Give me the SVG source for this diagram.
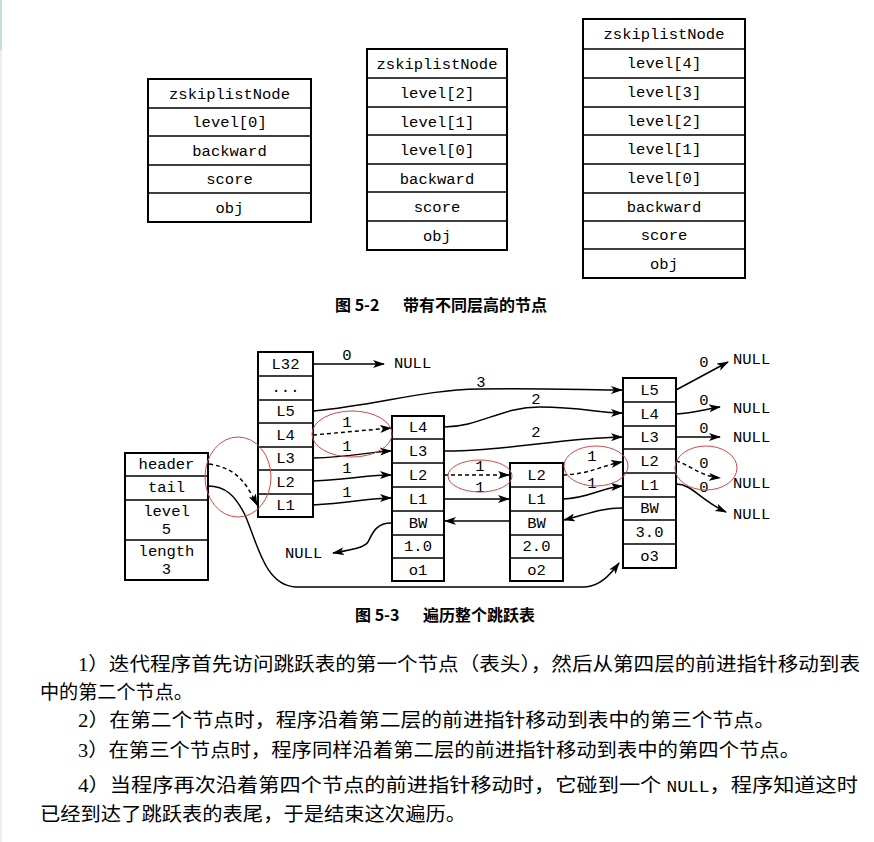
<svg xmlns="http://www.w3.org/2000/svg" width="874" height="842" viewBox="0 0 874 842">
<defs>
<style>
.box{fill:#fff;stroke:#000;stroke-width:2}
.m{font-family:"Liberation Mono","DejaVu Sans Mono",monospace;font-size:15.5px;fill:#000;text-anchor:middle}
.ml{font-family:"Liberation Mono","DejaVu Sans Mono",monospace;font-size:15.5px;fill:#000}
.cap{font-family:"Noto Sans CJK SC","Liberation Serif",serif;font-size:16px;font-weight:bold;fill:#000}
.p{font-family:"Liberation Serif","Noto Sans CJK SC",serif;font-size:19px;fill:#000}
.ln{fill:none;stroke:#000;stroke-width:1.5}
.ds{fill:none;stroke:#000;stroke-width:1.5;stroke-dasharray:4 3}
.red{fill:none;stroke:#d04848;stroke-width:1}
</style>
<marker id="ah" markerWidth="12" markerHeight="8" refX="11" refY="4" orient="auto" markerUnits="userSpaceOnUse">
<path d="M0,0 L12,4 L0,8 L3,4 Z" fill="#000"/>
</marker>
</defs>
<rect width="874" height="842" fill="#fff"/>
<rect x="0" y="0" width="2" height="50" fill="#c2e0da"/>
<rect x="0" y="50" width="2" height="792" fill="#eeeeee"/>

<!-- Figure 5-2 -->
<g id="node-a">
<rect class="box" x="148" y="79" width="163" height="143"/>
<path class="ln" d="M148,108 H311 M148,136 H311 M148,165 H311 M148,193 H311"/>
<text class="m" x="229.5" y="99">zskiplistNode</text>
<text class="m" x="229.5" y="127">level[0]</text>
<text class="m" x="229.5" y="156">backward</text>
<text class="m" x="229.5" y="184">score</text>
<text class="m" x="229.5" y="213">obj</text>
</g>
<g id="node-b">
<rect class="box" x="367" y="49" width="140" height="201"/>
<path class="ln" d="M367,78 H507 M367,107 H507 M367,135 H507 M367,164 H507 M367,192 H507 M367,221 H507"/>
<text class="m" x="437" y="69">zskiplistNode</text>
<text class="m" x="437" y="98">level[2]</text>
<text class="m" x="437" y="127">level[1]</text>
<text class="m" x="437" y="155">level[0]</text>
<text class="m" x="437" y="184">backward</text>
<text class="m" x="437" y="212">score</text>
<text class="m" x="437" y="241">obj</text>
</g>
<g id="node-c">
<rect class="box" x="583" y="19" width="162" height="259"/>
<path class="ln" d="M583,49 H745 M583,78 H745 M583,107 H745 M583,135 H745 M583,164 H745 M583,193 H745 M583,221 H745 M583,249 H745"/>
<text class="m" x="664" y="39">zskiplistNode</text>
<text class="m" x="664" y="68">level[4]</text>
<text class="m" x="664" y="97">level[3]</text>
<text class="m" x="664" y="126">level[2]</text>
<text class="m" x="664" y="154">level[1]</text>
<text class="m" x="664" y="183">level[0]</text>
<text class="m" x="664" y="212">backward</text>
<text class="m" x="664" y="240">score</text>
<text class="m" x="664" y="269">obj</text>
</g>
<text class="cap" x="335" y="311">图 5-2<tspan x="403">带有不同层高的节点</tspan></text>

<!-- Figure 5-3 -->
<g id="list">
<rect class="box" x="125" y="453" width="83" height="127"/>
<path class="ln" d="M125,476 H208 M125,500 H208 M125,540 H208"/>
<text class="m" x="166.5" y="469">header</text>
<text class="m" x="166.5" y="492">tail</text>
<text class="m" x="166.5" y="516">level</text>
<text class="m" x="166.5" y="534">5</text>
<text class="m" x="166.5" y="556">length</text>
<text class="m" x="166.5" y="574">3</text>
</g>
<g id="header-node">
<rect class="box" x="258" y="352" width="55" height="165"/>
<path class="ln" d="M258,376 H313 M258,400 H313 M258,423 H313 M258,447 H313 M258,470 H313 M258,494 H313"/>
<text class="m" x="285.5" y="369">L32</text>
<text class="m" x="285.5" y="392">...</text>
<text class="m" x="285.5" y="416">L5</text>
<text class="m" x="285.5" y="440">L4</text>
<text class="m" x="285.5" y="463">L3</text>
<text class="m" x="285.5" y="487">L2</text>
<text class="m" x="285.5" y="510">L1</text>
</g>
<g id="node1">
<rect class="box" x="392" y="416" width="52" height="165"/>
<path class="ln" d="M392,439 H444 M392,463 H444 M392,487 H444 M392,511 H444 M392,535 H444 M392,558 H444"/>
<text class="m" x="418" y="432">L4</text>
<text class="m" x="418" y="456">L3</text>
<text class="m" x="418" y="480">L2</text>
<text class="m" x="418" y="504">L1</text>
<text class="m" x="418" y="528">BW</text>
<text class="m" x="418" y="551">1.0</text>
<text class="m" x="418" y="575">o1</text>
</g>
<g id="node2">
<rect class="box" x="510" y="463" width="53" height="118"/>
<path class="ln" d="M510,487 H563 M510,511 H563 M510,535 H563 M510,558 H563"/>
<text class="m" x="536.5" y="480">L2</text>
<text class="m" x="536.5" y="504">L1</text>
<text class="m" x="536.5" y="528">BW</text>
<text class="m" x="536.5" y="551">2.0</text>
<text class="m" x="536.5" y="575">o2</text>
</g>
<g id="node3">
<rect class="box" x="623" y="378" width="53" height="190"/>
<path class="ln" d="M623,402 H676 M623,426 H676 M623,449 H676 M623,473 H676 M623,497 H676 M623,520 H676 M623,544 H676"/>
<text class="m" x="649.5" y="395">L5</text>
<text class="m" x="649.5" y="419">L4</text>
<text class="m" x="649.5" y="442">L3</text>
<text class="m" x="649.5" y="466">L2</text>
<text class="m" x="649.5" y="490">L1</text>
<text class="m" x="649.5" y="513">BW</text>
<text class="m" x="649.5" y="537">3.0</text>
<text class="m" x="649.5" y="561">o3</text>
</g>

<g id="connectors">
<path class="ln" marker-end="url(#ah)" d="M313,364 L384,364"/>
<path class="ln" marker-end="url(#ah)" d="M313,411 C380,405 420,390 480,389 C540,388 590,390 622,390"/>
<path class="ln" marker-end="url(#ah)" d="M444,427 C480,427 500,407 540,407 C580,407 600,413 622,413"/>
<path class="ln" marker-end="url(#ah)" d="M444,451 C500,452 560,438 622,437"/>
<path class="ds" marker-end="url(#ah)" d="M313,435 L391,428"/>
<path class="ln" marker-end="url(#ah)" d="M313,458 C350,457 370,452 391,451"/>
<path class="ln" marker-end="url(#ah)" d="M313,481 C350,479 370,475 391,475"/>
<path class="ln" marker-end="url(#ah)" d="M313,505 C350,503 370,498 391,498"/>
<path class="ds" marker-end="url(#ah)" d="M444,475 L509,475"/>
<path class="ln" marker-end="url(#ah)" d="M444,499 L509,499"/>
<path class="ds" marker-end="url(#ah)" d="M563,475 C590,474 600,466 622,462"/>
<path class="ln" marker-end="url(#ah)" d="M563,499 C590,498 600,488 622,486"/>
<path class="ln" marker-end="url(#ah)" d="M509,521 L445,521"/>
<path class="ln" marker-end="url(#ah)" d="M622,508 C600,508 585,515 564,520"/>
<path class="ln" marker-end="url(#ah)" d="M391,523 C375,523 372,535 368,542 C364,548 350,550 333,553"/>
<path class="ds" marker-end="url(#ah)" d="M209,464 C235,468 245,480 257,505"/>
<path class="ln" marker-end="url(#ah)" d="M208,486 C225,486 235,495 245,515 C258,545 265,585 295,587 L585,587 C600,586 610,575 619,563"/>
<path class="ln" marker-end="url(#ah)" d="M676,390 L728,362"/>
<path class="ln" marker-end="url(#ah)" d="M676,414 C695,413 705,409 720,407"/>
<path class="ln" marker-end="url(#ah)" d="M676,437 L720,437"/>
<path class="ds" marker-end="url(#ah)" d="M676,461 C690,465 700,476 720,478"/>
<path class="ln" marker-end="url(#ah)" d="M676,484 C692,484 700,500 726,512"/>
<text class="m" x="347" y="360">0</text>
<text class="m" x="481" y="387">3</text>
<text class="m" x="536" y="404">2</text>
<text class="m" x="536" y="437">2</text>
<text class="m" x="347" y="427">1</text>
<text class="m" x="347" y="451">1</text>
<text class="m" x="347" y="473">1</text>
<text class="m" x="347" y="497">1</text>
<text class="m" x="480" y="471">1</text>
<text class="m" x="480" y="492">1</text>
<text class="m" x="592" y="461">1</text>
<text class="m" x="592" y="488">1</text>
<text class="m" x="704" y="367">0</text>
<text class="m" x="704" y="405">0</text>
<text class="m" x="704" y="433">0</text>
<text class="m" x="704" y="468">0</text>
<text class="m" x="704" y="492">0</text>
<text class="ml" x="394" y="368">NULL</text>
<text class="ml" x="285" y="558">NULL</text>
<text class="ml" x="733" y="364">NULL</text>
<text class="ml" x="733" y="413">NULL</text>
<text class="ml" x="733" y="442">NULL</text>
<text class="ml" x="733" y="488">NULL</text>
<text class="ml" x="733" y="519">NULL</text>
<ellipse class="red" cx="238" cy="477" rx="33" ry="40"/>
<ellipse class="red" cx="352" cy="434" rx="40" ry="23"/>
<ellipse class="red" cx="480" cy="476" rx="32" ry="16"/>
<ellipse class="red" cx="596" cy="466" rx="32" ry="20"/>
<ellipse class="red" cx="706" cy="468" rx="31" ry="22"/>
</g>
<text class="cap" x="355" y="621" font-size="17">图 5-3<tspan x="423">遍历整个跳跃表</tspan></text>

<!-- paragraphs -->
<text class="p" x="78" y="671" textLength="782" lengthAdjust="spacingAndGlyphs">1）迭代程序首先访问跳跃表的第一个节点（表头），然后从第四层的前进指针移动到表</text>
<text class="p" x="40" y="699" textLength="153" lengthAdjust="spacingAndGlyphs">中的第二个节点。</text>
<text class="p" x="78" y="727" textLength="697" lengthAdjust="spacingAndGlyphs">2）在第二个节点时，程序沿着第二层的前进指针移动到表中的第三个节点。</text>
<text class="p" x="78" y="757" textLength="722" lengthAdjust="spacingAndGlyphs">3）在第三个节点时，程序同样沿着第二层的前进指针移动到表中的第四个节点。</text>
<text class="p" x="78" y="792" textLength="780" lengthAdjust="spacingAndGlyphs">4）当程序再次沿着第四个节点的前进指针移动时，它碰到一个 <tspan font-family="Liberation Mono, monospace" font-size="16">NULL</tspan>，程序知道这时</text>
<text class="p" x="40" y="821" textLength="426" lengthAdjust="spacingAndGlyphs">已经到达了跳跃表的表尾，于是结束这次遍历。</text>
</svg>
